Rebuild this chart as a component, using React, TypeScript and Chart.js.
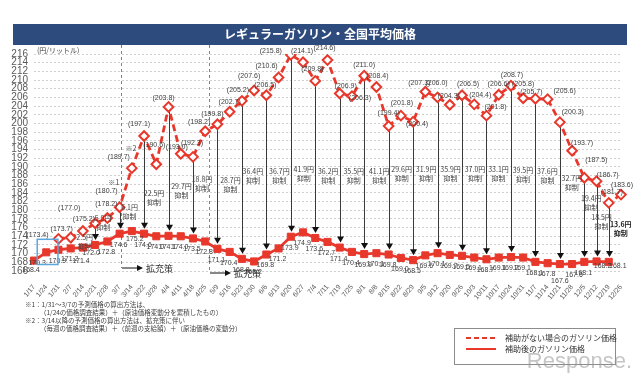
import { useEffect, useRef } from "react";
import { Chart, registerables } from "chart.js";

Chart.register(...registerables);

// ---- data ----
const weeks = ["1/17","1/24","1/31","2/7","2/14","2/21","2/28","3/7","3/14","3/22","3/28","4/4","4/11","4/18","4/25","5/9","5/16","5/23","5/30","6/6","6/13","6/20","6/27","7/4","7/11","7/19","7/25","8/1","8/8","8/15","8/22","8/29","9/5","9/12","9/20","9/26","10/3","10/11","10/17","10/24","10/31","11/7","11/14","11/21","11/28","12/5","12/12","12/19","12/26"];

const priceAfterSubsidy: (number | null)[] = [168.4,170.3,170.9,171.2,171.4,172.0,172.8,174.6,175.2,174.6,174.0,174.1,174.0,173.5,172.8,171.1,170.4,168.8,168.2,169.8,171.2,173.9,174.9,173.6,172.7,171.4,170.4,169.9,170.1,169.8,169.0,168.5,169.6,170.1,169.7,169.5,169.1,168.7,169.1,169.2,169.1,168.1,167.8,167.6,167.6,168.1,168.2,168.1,null];

const priceWithoutSubsidy: (number | null)[] = [null,null,173.4,173.7,175.2,177.0,178.2,180.7,189.7,197.1,190.6,203.8,193.0,192.3,198.2,199.8,202.7,205.2,207.6,206.5,210.6,215.8,214.1,209.8,214.6,206.9,206.3,211.0,208.4,199.4,201.8,200.4,207.3,206.0,204.3,206.5,204.4,201.8,206.6,208.7,205.8,205.7,205.6,200.3,193.7,187.5,186.7,181.7,183.6];

// weeks (index) with a relief arrow, the relief amount (円) and the level of its label (円/L)
const reliefWeeks = [3,5,7,9,11,13,15,17,19,21,23,25,27,29,31,33,35,37,39,41,43,45,46,47];
const reliefAmounts = [2.5,5.0,6.1,22.5,29.7,18.8,28.7,36.4,36.7,41.9,36.2,35.5,41.1,29.6,31.9,35.9,37.0,33.1,39.5,37.6,32.7,19.4,18.5,13.6];
const reliefLabelLevel = [173.8,178.2,180.7,184.0,185.6,187.2,187.0,189.0,189.0,189.4,189.0,189.0,189.0,189.4,189.4,189.5,189.5,189.4,189.3,189.0,187.4,182.8,178.4,176.8];
const reliefLabelShift = [14,8,10,10,13,9,13,11,13,13,13,14,15,13,13,13,13,12,12,12,12,7,5,12];

const yMin = 166;
const yMax = 216;
const yStep = 2;

// label shifts (px) for the value labels
const noSubsidyLabelShift: Record<number, [number, number]> = {
  2:[-21,-4],3:[-9,-9],4:[1,-12],5:[-26,-15],6:[-1,-14],7:[-13,-16],8:[-13,-11],9:[-5,-12],10:[-2,-19],
  11:[-5,-9],12:[-4,-7],13:[-1,-14],14:[-6,-9],15:[-5,-10],16:[0,-10],17:[-4,-11],18:[-5,-14],19:[-1,-10],
  20:[-12,-11],21:[-20,-4],22:[-1,-11],23:[-3,-12],24:[-3,-12],25:[6,-7],26:[8,2],27:[0,-11],28:[1,-11],
  29:[0,-13],30:[1,-13],31:[4,2],32:[-6,-9],33:[-1,-14],34:[-1,-9],35:[6,-11],36:[6,-9],37:[9,-9],
  38:[0,-11],39:[1,-11],40:[0,-14],41:[-4,-7],42:[17,-8],43:[13,-10],44:[10,-8],45:[12,-18],46:[11,-6],
  47:[3,-11],48:[1,-10]
};
const afterLabelShift: Record<number, [number, number]> = {
  0:[-3,9],1:[-9,11],4:[-2,13],5:[-4,8],8:[3,8],43:[0,17],44:[2,11],46:[6,5],47:[9,4]
};

const RED = "#E8382C";
const JP = '"Noto Sans CJK JP", "Noto Sans", sans-serif';
const NUM = '"Liberation Sans", "DejaVu Sans", sans-serif';

const overlay = {
  id: "overlay",
  beforeDatasetsDraw(chart: any) {
    const { ctx, scales } = chart;
    const x = scales.x, y = scales.y;
    ctx.save();
    // policy boundaries
    ctx.strokeStyle = "#808080";
    ctx.lineWidth = 1;
    ctx.setLineDash([3, 3]);
    const b1 = Math.round(x.getPixelForValue(7.15)) + 0.5;
    const b2 = Math.round(x.getPixelForValue(14.3)) + 0.5;
    ctx.beginPath(); ctx.moveTo(b1, 45); ctx.lineTo(b1, 268); ctx.stroke();
    ctx.beginPath(); ctx.moveTo(b2, 45); ctx.lineTo(b2, 273); ctx.stroke();
    ctx.setLineDash([]);
    // relief arrows
    ctx.strokeStyle = "#3a3a3a";
    ctx.fillStyle = "#111";
    reliefWeeks.forEach((i) => {
      const px = Math.round(x.getPixelForValue(i)) + 0.5;
      const top = y.getPixelForValue(priceWithoutSubsidy[i]) + 5;
      const tip = y.getPixelForValue(priceAfterSubsidy[i]) - 5;
      ctx.beginPath(); ctx.moveTo(px, top); ctx.lineTo(px, tip - 4); ctx.stroke();
      ctx.beginPath(); ctx.moveTo(px - 3.5, tip - 6); ctx.lineTo(px + 3.5, tip - 6); ctx.lineTo(px, tip); ctx.closePath(); ctx.fill();
    });
    ctx.restore();
  },
  afterDatasetsDraw(chart: any) {
    const { ctx, scales } = chart;
    const x = scales.x, y = scales.y;
    ctx.save();
    ctx.textAlign = "center";
    ctx.textBaseline = "middle";
    // labels of the no-subsidy series
    ctx.fillStyle = "#404040";
    ctx.font = `7px ${NUM}`;
    priceWithoutSubsidy.forEach((v, i) => {
      if (v == null) return;
      const s = noSubsidyLabelShift[i] || [0, -11];
      ctx.fillText(`(${v.toFixed(1)})`, x.getPixelForValue(i) + s[0], y.getPixelForValue(v) + s[1]);
    });
    // ※ marks
    ctx.font = `7px ${JP}`;
    ctx.fillText("※1", x.getPixelForValue(7) - 6, y.getPixelForValue(180.7) - 25);
    ctx.fillText("※2", x.getPixelForValue(8) - 1, y.getPixelForValue(189.7) - 20);
    // labels of the subsidised series
    ctx.font = `7px ${NUM}`;
    priceAfterSubsidy.forEach((v, i) => {
      if (v == null) return;
      const s = afterLabelShift[i] || [-1, 11];
      ctx.fillText(v.toFixed(1), x.getPixelForValue(i) + s[0], y.getPixelForValue(v) + s[1]);
    });
    // relief labels
    reliefWeeks.forEach((i, k) => {
      const cx = x.getPixelForValue(i) + reliefLabelShift[k];
      const cy = y.getPixelForValue(reliefLabelLevel[k]);
      const bold = k === reliefWeeks.length - 1;
      ctx.fillStyle = bold ? "#222" : "#404040";
      ctx.font = `${bold ? "bold " : ""}7px ${JP}`;
      ctx.fillText(`${reliefAmounts[k].toFixed(1)}円`, cx, cy);
      ctx.fillText("抑制", cx, cy + 9);
    });
    // highlight box on the first week
    ctx.strokeStyle = "#5BA7DC";
    ctx.lineWidth = 1.5;
    const bx0 = x.getPixelForValue(1) - 9;
    const bx1 = x.getPixelForValue(2) - 0.5;
    const by0 = y.getPixelForValue(173.3);
    const by1 = y.getPixelForValue(167.5);
    ctx.strokeRect(bx0, by0, bx1 - bx0, by1 - by0);
    ctx.restore();
  },
  afterDraw(chart: any) {
    const { ctx, scales } = chart;
    const x = scales.x;
    ctx.save();
    // title bar
    ctx.fillStyle = "#2E4B7D";
    ctx.fillRect(13, 24, 614, 21);
    ctx.fillStyle = "#ffffff";
    ctx.font = `bold 12px ${JP}`;
    ctx.textAlign = "center";
    ctx.textBaseline = "middle";
    ctx.fillText("レギュラーガソリン・全国平均価格", 320, 34.5);
    // unit
    ctx.fillStyle = "#404040";
    ctx.font = `7px ${JP}`;
    ctx.textAlign = "left";
    ctx.fillText("(円/リットル)", 37, 50);
    // expansion arrows
    const drawExp = (x0: number, yy: number) => {
      ctx.strokeStyle = "#111"; ctx.fillStyle = "#111"; ctx.lineWidth = 1;
      ctx.beginPath(); ctx.moveTo(x0, yy); ctx.lineTo(x0 + 16, yy); ctx.stroke();
      ctx.beginPath(); ctx.moveTo(x0 + 21, yy); ctx.lineTo(x0 + 15, yy - 3); ctx.lineTo(x0 + 15, yy + 3); ctx.closePath(); ctx.fill();
      ctx.fillStyle = "#333";
      ctx.font = `9px ${JP}`;
      ctx.fillText("拡充策", x0 + 24, yy + 1);
    };
    drawExp(Math.round(x.getPixelForValue(7.15)) + 1, 268);
    drawExp(Math.round(x.getPixelForValue(14.3)) + 1, 273);
    // footnotes
    ctx.fillStyle = "#404040";
    ctx.font = `6.5px ${JP}`;
    ctx.fillText("※1：1/31～3/7の予測価格の算出方法は、", 25, 305);
    ctx.fillText("（1/24の価格調査結果）＋（原油価格変動分を累積したもの）", 40, 313);
    ctx.fillText("※2：3/14以降の予測価格の算出方法は、拡充策に伴い", 25, 321);
    ctx.fillText("（毎週の価格調査結果）＋（前週の支給額）＋（原油価格の変動分）", 40, 329);
    // legend
    ctx.strokeStyle = "#8c8c8c";
    ctx.lineWidth = 1;
    ctx.strokeRect(454.5, 328.5, 161, 36);
    ctx.strokeStyle = RED;
    ctx.lineWidth = 2;
    ctx.setLineDash([5, 3]);
    ctx.beginPath(); ctx.moveTo(466, 338); ctx.lineTo(496, 338); ctx.stroke();
    ctx.setLineDash([]);
    ctx.beginPath(); ctx.moveTo(466, 349); ctx.lineTo(496, 349); ctx.stroke();
    ctx.fillStyle = "#333";
    ctx.font = `8px ${JP}`;
    ctx.fillText("補助がない場合のガソリン価格", 505, 338);
    ctx.fillText("補助後のガソリン価格", 505, 349);
    // watermark
    ctx.fillStyle = "rgba(150,150,150,0.55)";
    ctx.font = `22px ${NUM}`;
    ctx.textAlign = "right";
    ctx.fillText("Response.", 632, 362);
    ctx.restore();
  },
};

export default function App() {
  const ref = useRef<HTMLCanvasElement>(null);
  useEffect(() => {
    document.body.style.margin = "0";
    const chart = new Chart(ref.current as HTMLCanvasElement, {
      type: "line",
      data: {
        labels: weeks,
        datasets: [
          {
            label: "補助後のガソリン価格",
            data: priceAfterSubsidy,
            borderColor: RED,
            backgroundColor: RED,
            borderWidth: 2.8,
            pointStyle: "rect",
            pointRadius: 5,
            pointBackgroundColor: RED,
            pointBorderColor: RED,
            pointBorderWidth: 1,
            tension: 0,
          },
          {
            label: "補助がない場合のガソリン価格",
            data: priceWithoutSubsidy,
            borderColor: RED,
            backgroundColor: "#fff",
            borderWidth: 2.8,
            borderDash: [7, 4],
            pointStyle: "rectRot",
            pointRadius: 4.8,
            pointBackgroundColor: "#ffffff",
            pointBorderColor: RED,
            pointBorderWidth: 2,
            tension: 0,
          },
        ],
      },
      options: {
        responsive: false,
        animation: false,
        layout: { padding: { top: 54, right: 19, left: 0, bottom: 0 } },
        plugins: {
          legend: { display: false },
          tooltip: { enabled: false },
          title: { display: false },
        },
        scales: {
          x: {
            type: "category",
            offset: false,
            grid: { display: false, drawTicks: false },
            border: { display: false },
            ticks: {
              autoSkip: false,
              minRotation: 50,
              maxRotation: 50,
              padding: 12,
              color: "#595959",
              font: { size: 7, family: NUM },
            },
            afterFit: (s: any) => { s.height = 104; },
          },
          y: {
            min: yMin,
            max: yMax,
            ticks: {
              stepSize: yStep,
              autoSkip: false,
              padding: 6,
              color: "#595959",
              font: { size: 10, family: NUM },
            },
            grid: { color: "#cfcfcf", drawTicks: false, lineWidth: 1 },
            border: { display: false, dash: [2, 2] },
            afterFit: (s: any) => { s.width = 34; },
          },
        },
      },
      plugins: [overlay],
    } as any);
    return () => chart.destroy();
  }, []);
  return (
    <div style={{ width: 640, height: 375, background: "#fff" }}>
      <canvas ref={ref} width={640} height={375} />
    </div>
  );
}
